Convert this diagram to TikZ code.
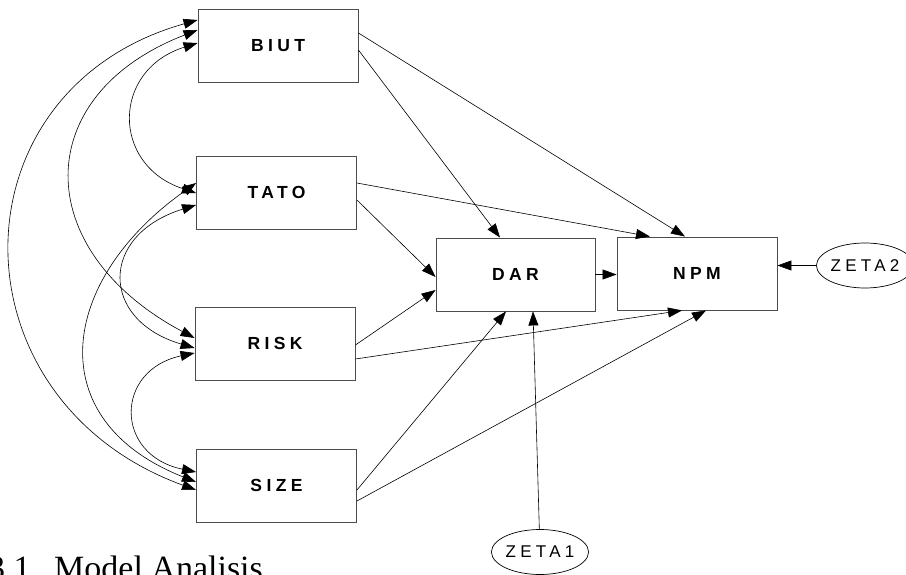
\documentclass[tikz,border=0pt]{standalone}
\usepackage{fontspec}
\setmainfont{Liberation Serif}
\setsansfont{Liberation Sans}
\usetikzlibrary{arrows.meta,shapes.geometric}

\begin{document}
\begin{tikzpicture}[x=1pt, y=-1pt,
        box/.style={draw=black!70, line width=0.9pt, minimum width=160pt, minimum height=73pt, inner sep=0pt,
            font=\sffamily\bfseries\fontsize{17.5}{20}\selectfont\addfontfeature{LetterSpace=25}},
        err/.style={ellipse, draw, line width=0.7pt, minimum width=82pt, minimum height=45pt, inner sep=0pt,
            font=\sffamily\fontsize{17}{20}\selectfont\addfontfeature{LetterSpace=25}},
        path/.style={-{Triangle[length=14pt,width=10pt]}, line width=0.6pt},
        cov/.style={{Triangle[length=14pt,width=10pt]}-{Triangle[length=14pt,width=10pt]}, line width=0.6pt}]
        \useasboundingbox (0, 0) rectangle (906, 575);
        \node[box] (biut) at (278, 45.5) {BIUT};
        \node[box] (tato) at (276.5, 192.5) {TATO};
        \node[box] (risk) at (275, 343.5) {RISK};
        \node[box] (size) at (276.5, 485.5) {SIZE};
        \node[box, minimum width=159pt] (dar) at (515.5, 274.5) {DAR};
        \node[box] (npm) at (697, 273.5) {NPM};
        \node[err] (zeta2) at (865, 265.5) {ZETA2};
        \node[err] (zeta1) at (540, 552) {ZETA1};
        \node[anchor=base west, inner sep=0pt, font=\fontsize{34}{37}\selectfont] (caption) at (-12, 579.5) {3.1.\hspace{15pt}Model Analisis};

        \draw[path] ([yshift=12.5pt]biut.east) -- ([xshift=-12pt]npm.north);
        \draw[path] ([yshift=-4.5pt]biut.east) -- ([xshift=-15.5pt]dar.north);
        \draw[path] ([yshift=9.5pt]tato.east) -- ([xshift=-47pt]npm.north);
        \draw[path] ([yshift=-7.5pt]tato.east) -- ([yshift=-2.5pt]dar.west);
        \draw[path] ([yshift=-1.5pt]risk.east) -- ([yshift=-15.5pt]dar.west);
        \draw[path] ([yshift=-15.5pt]risk.east) -- ([xshift=-15pt]npm.south);
        \draw[path] ([yshift=-4.5pt]size.east) -- ([xshift=-9.5pt]dar.south);
        \draw[path] ([yshift=-15.5pt]size.east) -- ([xshift=9pt]npm.south);
        \draw[path] (dar.east) -- (dar.east -| npm.west);
        \draw[path] (zeta2) -- (zeta2 -| npm.east);
        \draw[path] (zeta1) -- ([xshift=17.5pt]dar.south);

        \draw[cov] ([yshift=2.5pt]biut.west) .. controls +(-86, 27) and +(-85, -28) .. ([yshift=-0.5pt]tato.west);
        \draw[cov] ([yshift=15.5pt]biut.west) .. controls +(-168, 65) and +(-165, -88) .. ([yshift=5.5pt]risk.west);
        \draw[cov] ([yshift=25.5pt]biut.west) .. controls +(-248, 70) and +(-247, -90) .. ([yshift=-4.5pt]size.west);
        \draw[cov] ([yshift=-12.5pt]tato.west) .. controls +(-97, 30) and +(-95, -28) .. ([yshift=-4.5pt]risk.west);
        \draw[cov] ([yshift=9.5pt]tato.west) .. controls +(-137, 97) and +(-157, -62) .. ([yshift=3.5pt]size.west);
        \draw[cov] ([yshift=-9.5pt]risk.west) .. controls +(-80, 17) and +(-82, -17) .. ([yshift=13.5pt]size.west);
    \end{tikzpicture}
\end{document}
